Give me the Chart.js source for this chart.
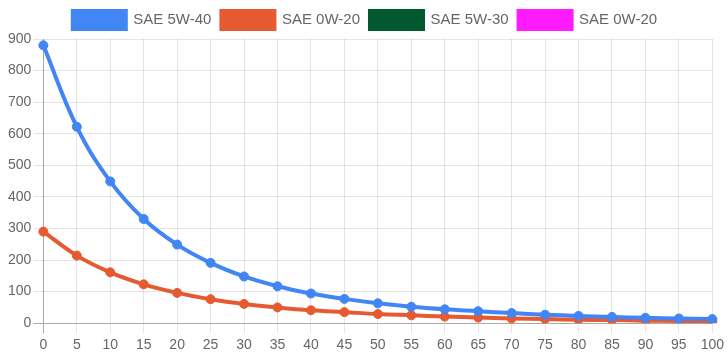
<!DOCTYPE html>
<html>
<head>
<meta charset="utf-8">
<script src="https://cdn.jsdelivr.net/npm/chart.js@4"></script>
<style>
  html, body { margin: 0; padding: 0; background: #fff; }
  #wrap { width: 728px; height: 361px; }
</style>
</head>
<body>
<div id="wrap"><canvas id="c" width="728" height="361"></canvas></div>
<script>
const categories = ['0','5','10','15','20','25','30','35','40','45','50','55','60','65','70','75','80','85','90','95','100'];
const seriesNames = ['SAE 5W-40', 'SAE 0W-20', 'SAE 5W-30', 'SAE 0W-20'];
const sae5w40 = [880, 622, 449, 330, 249, 191, 148, 117, 94, 77, 63, 52, 44, 38, 32, 27, 23, 20, 17, 15, 13];
const sae0w20 = [290, 214, 161, 123, 96, 76, 61, 50, 41, 35, 29, 25, 21, 18, 15, 13, 11, 10, 8, 7, 6];
const sae5w30 = [];
const sae0w20b = [];
const yTicks = [0, 100, 200, 300, 400, 500, 600, 700, 800, 900];

const colors = ['#4285F4', '#E65A32', '#03582F', '#FF1AFF'];
const seriesData = [sae5w40, sae0w20, sae5w30, sae0w20b];

Chart.defaults.font.family = "'Liberation Sans', Arial, sans-serif";
Chart.defaults.color = '#666';

new Chart(document.getElementById('c'), {
  type: 'line',
  data: {
    labels: categories,
    datasets: seriesData.map((d, i) => ({
      label: seriesNames[i],
      data: d,
      borderColor: colors[i],
      backgroundColor: colors[i],
      borderWidth: 4,
      pointRadius: 4.5,
      pointHoverRadius: 5,
      pointBackgroundColor: colors[i],
      pointBorderColor: colors[i],
      pointBorderWidth: 1,
      tension: 0.4,
      fill: false
    }))
  },
  options: {
    responsive: false,
    animation: false,
    layout: { padding: { left: 6, right: 4, top: 1, bottom: 3 } },
    plugins: {
      legend: {
        position: 'top',
        labels: {
          boxWidth: 53,
          boxHeight: 18,
          font: { size: 15 },
          color: '#666',
          padding: 10
        }
      },
      tooltip: { enabled: false }
    },
    scales: {
      x: {
        ticks: { font: { size: 14 }, color: '#666', maxRotation: 0, autoSkip: false, padding: 4 },
        grid: {
          color: ctx => ctx.index === 0 ? '#aaa' : 'rgba(0,0,0,0.1)',
          tickLength: 10
        },
        border: { display: false }
      },
      y: {
        min: 0,
        max: 900,
        afterBuildTicks: axis => { axis.ticks = yTicks.map(v => ({ value: v })); },
        ticks: { font: { size: 14 }, color: '#666', padding: 2 },
        grid: {
          color: ctx => ctx.index === 0 ? '#aaa' : 'rgba(0,0,0,0.1)',
          tickLength: 10
        },
        border: { display: false }
      }
    }
  }
});
</script>
</body>
</html>
